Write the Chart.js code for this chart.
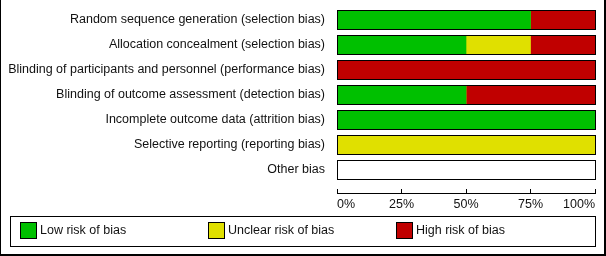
<!DOCTYPE html>
<html>
<head>
<meta charset="utf-8">
<script src="https://cdn.jsdelivr.net/npm/chart.js@4.4.1/dist/chart.umd.min.js"></script>
<style>
  html, body { margin: 0; padding: 0; background: #fff; }
  #wrap { width: 606px; height: 256px; position: relative; }
</style>
</head>
<body>
<div id="wrap"><canvas id="myChart1" width="606" height="256"></canvas></div>
<script>
  // Risk of bias domains and percentages of studies
  const domains = [
    'Random sequence generation (selection bias)',
    'Allocation concealment (selection bias)',
    'Blinding of participants and personnel (performance bias)',
    'Blinding of outcome assessment (detection bias)',
    'Incomplete outcome data (attrition bias)',
    'Selective reporting (reporting bias)',
    'Other bias'
  ];
  const lowRisk = [75, 50, 0, 50, 100, 0, 0];
  const unclearRisk = [0, 25, 0, 0, 0, 100, 0];
  const highRisk = [25, 25, 100, 50, 0, 0, 0];
  const xTicks = [0, 25, 50, 75, 100];

  const FONT = { family: 'Arial, "Liberation Sans", sans-serif', size: 12.5 };

  const toPoints = arr => arr.map((v, i) => ({ x: v, y: i }));

  // black outline round every row, axis line, outer frame and boxed legend
  const framePlugin = {
    id: 'frame',
    afterDatasetsDraw(chart) {
      const ctx = chart.ctx;
      const x = chart.scales.x, y = chart.scales.y;
      ctx.save();
      ctx.strokeStyle = '#000';
      ctx.lineWidth = 1;
      domains.forEach((d, i) => {
        const cy = Math.round(y.getPixelForValue(i));
        const x0 = Math.round(x.getPixelForValue(0)) + 0.5;
        const x1 = Math.round(x.getPixelForValue(100)) + 0.5;
        ctx.strokeRect(x0, cy - 9.5, x1 - x0, 19);
      });
      ctx.restore();
    },
    afterDraw(chart) {
      const ctx = chart.ctx;
      const x = chart.scales.x;
      ctx.save();
      ctx.strokeStyle = '#000';
      ctx.lineWidth = 1;
      // axis line under the tick marks
      const ay = Math.round(x.top + 4) + 0.5;
      ctx.beginPath();
      ctx.moveTo(Math.round(x.left), ay);
      ctx.lineTo(Math.round(x.right) + 1, ay);
      ctx.stroke();
      // outer frame
      ctx.fillStyle = '#000';
      ctx.fillRect(0, 0, 1, 256);
      ctx.fillRect(604, 0, 2, 256);
      ctx.fillRect(0, 254, 606, 2);
      // legend box
      ctx.strokeRect(10.5, 216.5, 585, 30);
      ctx.font = FONT.size + 'px ' + FONT.family;
      ctx.textBaseline = 'middle';
      ctx.textAlign = 'left';
      chart.data.datasets.forEach((ds, i) => {
        const lx = 20 + i * 188;
        ctx.fillStyle = ds.backgroundColor;
        ctx.fillRect(lx, 222, 17, 17);
        ctx.strokeRect(lx + 0.5, 222.5, 16, 16);
        ctx.fillStyle = '#111';
        ctx.fillText(ds.label, lx + 20, 231);
      });
      ctx.restore();
    }
  };

  const config1 = {
    type: 'bar',
    data: {
      datasets: [
        { label: 'Low risk of bias', data: toPoints(lowRisk), backgroundColor: '#00c000' },
        { label: 'Unclear risk of bias', data: toPoints(unclearRisk), backgroundColor: '#e0e000' },
        { label: 'High risk of bias', data: toPoints(highRisk), backgroundColor: '#c00000' }
      ]
    },
    options: {
      indexAxis: 'y',
      responsive: false,
      animation: false,
      layout: { padding: { left: 0, right: 11, top: 7.5, bottom: 48 } },
      datasets: { bar: { barThickness: 19, borderWidth: 0 } },
      plugins: {
        legend: { display: false },
        title: { display: false },
        tooltip: { enabled: false }
      },
      scales: {
        x: {
          type: 'linear',
          stacked: true,
          min: 0,
          max: 100,
          bounds: 'data',
          offset: false,
          afterBuildTicks: s => { s.ticks = xTicks.map(v => ({ value: v })); },
          afterFit: s => { s.height = 19; s.paddingLeft = 0; s.paddingRight = 0; },
          grid: { drawOnChartArea: false, tickLength: 4, color: '#000', offset: false },
          border: { display: false },
          ticks: {
            align: 'inner',
            padding: 4,
            maxRotation: 0,
            autoSkip: false,
            color: '#111',
            font: FONT,
            callback: v => v + '%'
          }
        },
        y: {
          type: 'linear',
          stacked: true,
          reverse: true,
          min: -0.5,
          max: 6.76,
          bounds: 'data',
          offset: false,
          afterBuildTicks: s => { s.ticks = domains.map((d, i) => ({ value: i })); },
          afterFit: s => { s.width = 337; s.paddingTop = 0; s.paddingBottom = 0; },
          grid: { display: false, drawTicks: false, offset: false },
          border: { display: false },
          ticks: {
            padding: 12,
            autoSkip: false,
            color: '#111',
            font: FONT,
            callback: v => domains[v]
          }
        }
      }
    },
    plugins: [framePlugin]
  };

  const ctx = document.getElementById('myChart1').getContext('2d');
  const myChart1 = new Chart(ctx, config1);
</script>
</body>
</html>
